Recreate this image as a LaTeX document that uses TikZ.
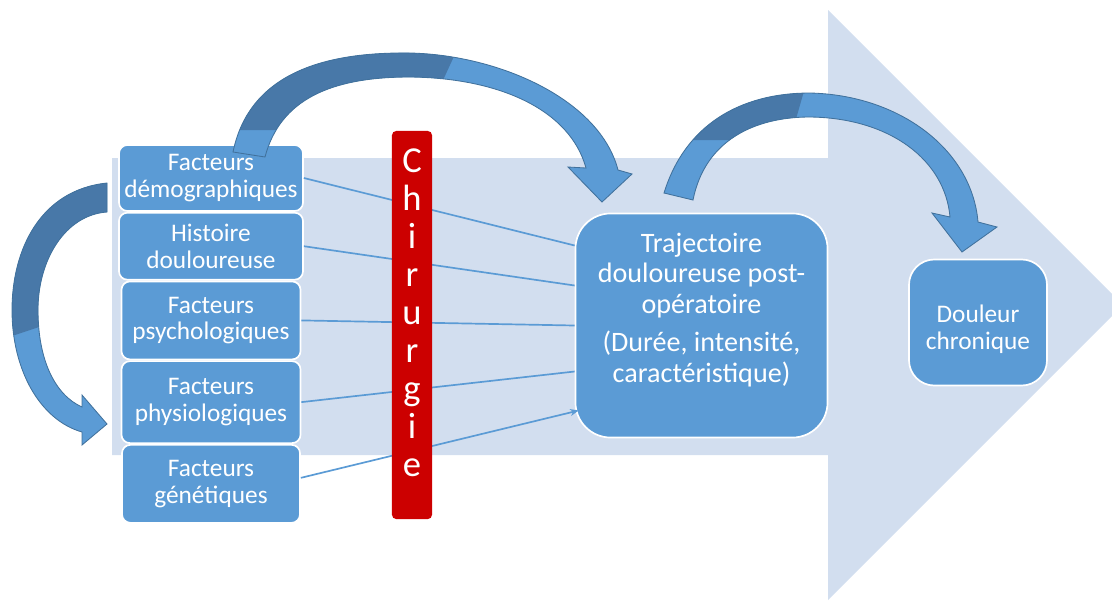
\documentclass[tikz,border=0pt]{standalone}
\usepackage{fontspec}
\setmainfont{Carlito}
\usetikzlibrary{positioning,calc,arrows.meta}

\definecolor{bleu}{HTML}{5B9BD5}
\definecolor{bleufonce}{HTML}{41719C}
\definecolor{sombre}{HTML}{4878A8}
\definecolor{fond}{HTML}{D2DEEF}
\definecolor{rouge}{HTML}{CC0000}

% fleches courbes (coordonnees en pixels)
\newcommand{\flecheA}{(233,152) .. controls (250,70) and (330,52) .. (410,53)
    .. controls (500,55) and (600,100) .. (618,170) -- (632,174) -- (602,202)
    -- (568,167) -- (586,168) .. controls (570,110) and (500,78) .. (410,77)
    .. controls (330,77) and (280,100) .. (265,157) -- cycle}
\newcommand{\flecheB}{(664,193) .. controls (685,125) and (740,93) .. (810,93)
    .. controls (900,95) and (972,150) .. (978,222) -- (997,227) -- (962,252)
    -- (932,213) -- (950,217) .. controls (945,160) and (890,118) .. (810,117)
    .. controls (755,117) and (705,140) .. (693,200) -- cycle}
\newcommand{\flecheC}{(107,183) .. controls (40,190) and (12,250) .. (12,310)
    .. controls (12,370) and (40,420) .. (82,432) -- (82,445) -- (107,424)
    -- (82,395) -- (82,407) .. controls (55,395) and (38,360) .. (38,310)
    .. controls (38,260) and (65,215) .. (107,212) -- cycle}

\begin{document}
\begin{tikzpicture}[x=0.025cm, y=-0.025cm,
    facteur/.style={
        rectangle, rounded corners=6pt, fill=bleu, draw=white,
        line width=1.2pt, text=white, align=center,
        font=\fontsize{18}{19}\selectfont, inner sep=1pt
    },
    texte/.style={
        text=white, align=center
    },
    lien/.style={
        draw=bleu, line width=1.2pt
    },
    contour/.style={
        draw=bleufonce, line width=0.6pt
    }
    ]
    \useasboundingbox (0,0) rectangle (1112,601);
    \clip (0,0) rectangle (1112,601);

    % grande fleche de fond
    \fill[fond] (112,158) -- (828,158) -- (828,10) -- (1123,305) -- (828,600)
        -- (828,455) -- (112,455) -- cycle;

    % facteurs
    \node[facteur, minimum width=4.6cm, minimum height=1.65cm] (demo) at (211,178) {Facteurs\\démographiques};
    \node[facteur, minimum width=4.6cm, minimum height=1.675cm, below=0pt of demo] (histoire) {Histoire\\douloureuse};
    \node[facteur, minimum width=4.475cm, minimum height=1.95cm, below=0pt of histoire] (psycho) {Facteurs\\psychologiques};
    \node[facteur, minimum width=4.475cm, minimum height=2.05cm, below=0pt of psycho] (physio) {Facteurs\\physiologiques};
    \node[facteur, minimum width=4.45cm, minimum height=1.95cm, below=0pt of physio] (genetique) {Facteurs\\génétiques};

    % trajectoire et douleur chronique
    \node[facteur, minimum width=6.3cm, minimum height=5.6cm, rounded corners=25pt,
        label={[texte, font=\fontsize{20}{21.5}\selectfont, yshift=11pt]center:{Trajectoire\\douloureuse post-\\opératoire\\[6pt](Durée, intensité,\\caractéristique)}}] (traj) at (701.5,325.5) {};
    \node[facteur, minimum width=3.45cm, minimum height=3.15cm, rounded corners=18pt,
        label={[texte, font=\fontsize{18}{19}\selectfont, yshift=-5pt]center:{Douleur\\chronique}}] (douleur) at (978,322.5) {};

    % liens
    \draw[lien] (demo.east) -- ($(traj.west)+(0,-80)$);
    \draw[lien] (histoire.east) -- ($(traj.west)+(0,-40)$);
    \draw[lien] (psycho.east) -- ($(traj.west)+(0,0)$);
    \draw[lien] (physio.east) -- ($(traj.west)+(0,46)$);
    \draw[lien, -{Stealth[length=6pt, width=5pt]}] ($(genetique.east)+(0,-6)$) -- ($(traj.west)+(4,85)$);

    % chirurgie
    \node[fill=rouge, rounded corners=3pt, minimum width=1cm, minimum height=9.7cm, inner sep=0pt] (barre) at (412,325) {};
    \node[texte, font=\fontsize{26}{27}\selectfont] (chirurgie) at (412,313) {C\\h\\i\\r\\u\\r\\g\\i\\e};

    % fleches courbes
    \fill[bleu] \flecheA;
    \begin{scope}
        \clip (200,0) -- (480,0) -- (420,130) -- (200,130) -- cycle;
        \fill[sombre] \flecheA;
    \end{scope}
    \draw[contour] \flecheA;

    \fill[bleu] \flecheB;
    \begin{scope}
        \clip (600,0) -- (830,0) -- (790,140) -- (600,140) -- cycle;
        \fill[sombre] \flecheB;
    \end{scope}
    \draw[contour] \flecheB;

    \fill[bleu] \flecheC;
    \begin{scope}
        \clip (0,150) -- (120,150) -- (120,300) -- (0,340) -- cycle;
        \fill[sombre] \flecheC;
    \end{scope}
    \draw[contour] \flecheC;
\end{tikzpicture}
\end{document}
